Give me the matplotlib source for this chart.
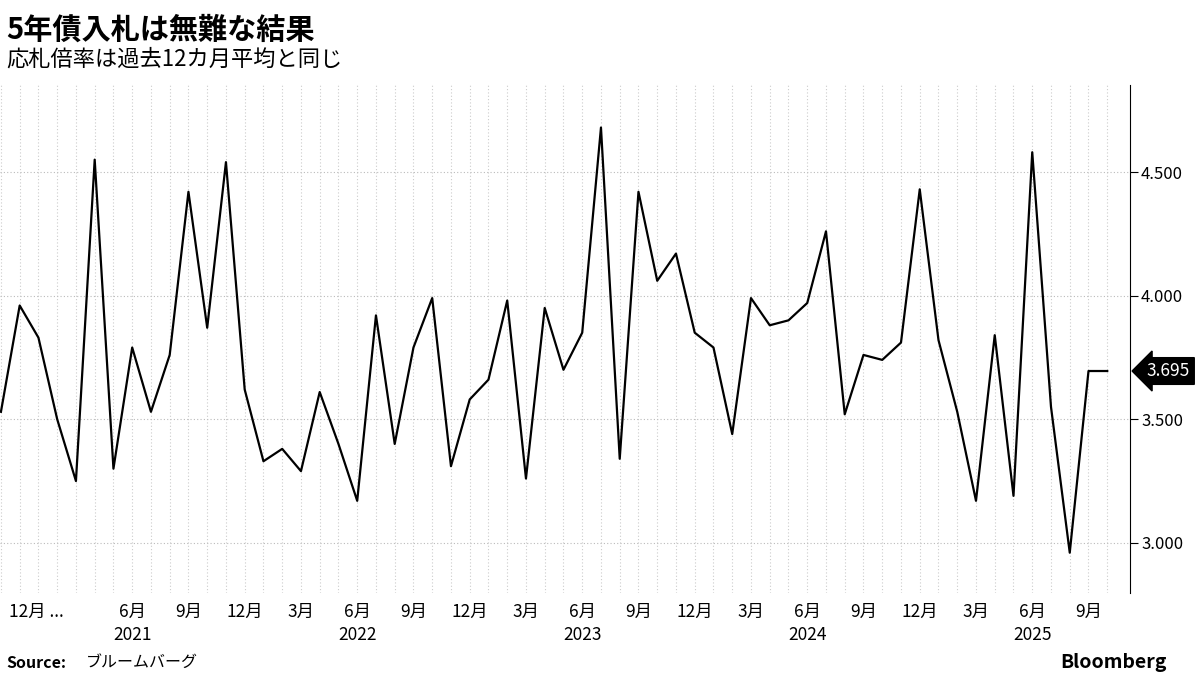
import matplotlib
matplotlib.use("Agg")
import matplotlib.pyplot as plt

plt.rcParams['font.family'] = ['Noto Sans CJK JP', 'DejaVu Sans']

values = [3.53, 3.96, 3.83, 3.50, 3.25, 4.55, 3.30, 3.79, 3.53, 3.76, 4.42, 3.87,
          4.54, 3.62, 3.33, 3.38, 3.29, 3.61, 3.40, 3.17, 3.92, 3.40, 3.79, 3.99,
          3.31, 3.58, 3.66, 3.98, 3.26, 3.95, 3.70, 3.85, 4.68, 3.34, 4.42, 4.06,
          4.17, 3.85, 3.79, 3.44, 3.99, 3.88, 3.90, 3.97, 4.26, 3.52, 3.76, 3.74,
          3.81, 4.43, 3.82, 3.53, 3.17, 3.84, 3.19, 4.58, 3.55, 2.96, 3.695, 3.695]
# index 0 = Nov 2020
month_tick_idx = [1, 7, 10, 13, 16, 19, 22, 25, 28, 31, 34, 37, 40, 43, 46, 49, 52, 55, 58]
month_tick_labels = ["12月 ...", "6月", "9月", "12月", "3月", "6月", "9月", "12月", "3月", "6月",
                     "9月", "12月", "3月", "6月", "9月", "12月", "3月", "6月", "9月"]
year_idx = [7, 19, 31, 43, 55]
year_labels = ["2021", "2022", "2023", "2024", "2025"]
yticks = [3.0, 3.5, 4.0, 4.5]

fig = plt.figure(figsize=(12, 6.75), dpi=100)
ax = fig.add_axes([0.0, 1 - 593/675, 1130/1200, (593 - 85)/675])
x = list(range(len(values)))
ax.plot(x, values, color='black', lw=1.6, zorder=3)
ax.set_xlim(-0.05, (1130 - 1) / 18.75)
ax.set_ylim(2.797, 4.852)

for i in x:
    ax.axvline(i, color='#cccccc', lw=0.8, ls=(0, (1, 2)), zorder=1)
for t in yticks:
    ax.axhline(t, color='#bbbbbb', lw=0.8, ls=(0, (1, 2)), zorder=1)

ax.yaxis.tick_right()
ax.set_yticks(yticks)
ax.set_yticklabels([f"{t:.3f}" for t in yticks], fontsize=12)
ax.tick_params(axis='y', length=6, color='black', pad=2)
ax.set_xticks([])
for s in ['top', 'left', 'bottom']:
    ax.spines[s].set_visible(False)
ax.spines['right'].set_color('black')

for i, lab in zip(month_tick_idx, month_tick_labels):
    if lab.endswith("..."):
        ax.text(i - 0.55, -0.02, lab, transform=ax.get_xaxis_transform(), ha='left', va='top', fontsize=12.5)
    else:
        ax.text(i, -0.02, lab, transform=ax.get_xaxis_transform(), ha='center', va='top', fontsize=12.5)
for i, lab in zip(year_idx, year_labels):
    ax.text(i, -0.065, lab, transform=ax.get_xaxis_transform(), ha='center', va='top', fontsize=12.5)

ax.annotate(f"{values[-1]:.3f}", xy=(1.0, values[-1]), xycoords=('axes fraction', 'data'),
            xytext=(12, 0), textcoords='offset points', ha='left', va='center',
            color='white', fontsize=12.5,
            bbox=dict(boxstyle='larrow,pad=0.25', fc='black', ec='black'), annotation_clip=False)

fig.text(0.005, 0.978, "5年債入札は無難な結果", fontsize=21, fontweight='bold', va='top', ha='left')
fig.text(0.005, 0.93, "応札倍率は過去12カ月平均と同じ", fontsize=16, va='top', ha='left')
fig.text(0.005, 0.018, "Source:", fontsize=11.5, fontweight='bold', va='center', ha='left')
fig.text(0.072, 0.018, "ブルームバーグ", fontsize=11.5, va='center', ha='left')
fig.text(0.972, 0.018, "Bloomberg", fontsize=14, fontweight='bold', va='center', ha='right')

fig.savefig("out.png", dpi=100)
